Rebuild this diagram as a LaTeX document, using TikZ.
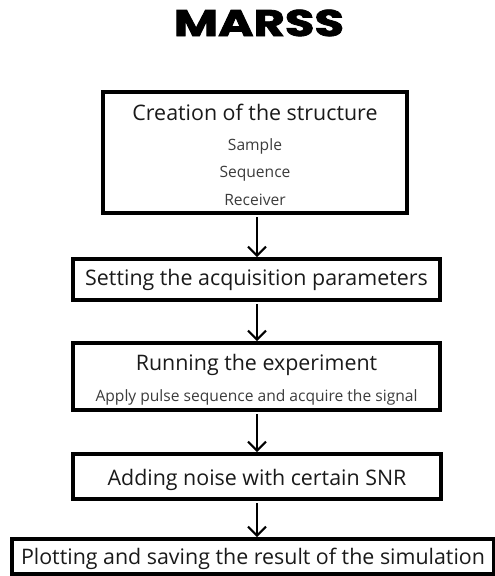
\documentclass[tikz,border=0pt]{standalone}
\usepackage{fontspec}
\setmainfont{Open Sans}
\newfontfamily\titlefont{Poppins}[FakeBold=2]
\usetikzlibrary{arrows.meta}
\definecolor{maintext}{HTML}{1A1A1A}
\definecolor{subtext}{HTML}{3C3C3C}
\tikzset{
  stepbox/.style={draw=black, line width=4pt, fill=white, inner sep=0pt},
  headtext/.style={text=maintext, font=\fontsize{21.4}{24}\selectfont, inner sep=0pt, anchor=base},
  smalltext/.style={text=subtext, font=\fontsize{15.6}{18}\selectfont, inner sep=0pt, anchor=base},
  flow/.style={line width=2pt, -{Straight Barb[length=9pt,width=18pt,line width=2pt]}}
}
\begin{document}
\begin{tikzpicture}[x=1pt,y=-1pt]
\useasboundingbox (0,0) rectangle (495,576);
% title
\node[font=\titlefont\bfseries\fontsize{37}{40}\selectfont, inner sep=0pt, anchor=base, xscale=1.3] (title) at (259,36) {MARSS};
% step boxes
\node[stepbox, minimum width=304pt, minimum height=121pt] (b1) at (255,152.5) {};
\node[stepbox, minimum width=367pt, minimum height=41pt] (b2) at (256.5,279.5) {};
\node[stepbox, minimum width=367pt, minimum height=67pt] (b3) at (256.5,376.5) {};
\node[stepbox, minimum width=368pt, minimum height=45pt] (b4) at (257,476.5) {};
\node[stepbox, minimum width=482pt, minimum height=35pt] (b5) at (253,556.5) {};
% box texts (placed on their baselines)
\node[headtext] (t1) at (255,120) {Creation of the structure};
\node[smalltext] (s1) at (255,150) {Sample};
\node[smalltext] (s2) at (255,177) {Sequence};
\node[smalltext] (s3) at (255,205) {Receiver};
\node[headtext] (t2) at (256.5,285) {Setting the acquisition parameters};
\node[headtext] (t3) at (256.5,370) {Running the experiment};
\node[smalltext] (s4) at (256.5,401) {Apply pulse sequence and acquire the signal};
\node[headtext] (t4) at (257,485) {Adding noise with certain SNR};
\node[headtext] (t5) at (253,564) {Plotting and saving the result of the simulation};
% connectors
\draw[flow] (b1.south -| 257,0) ++(0,2) -- (b2.north -| 257,0);
\draw[flow] (b2.south -| 257,0) ++(0,2) -- (b3.north -| 257,0);
\draw[flow] (b3.south -| 257,0) ++(0,2) -- (b4.north -| 257,0);
\draw[flow] (b4.south -| 257,0) ++(0,2) -- (b5.north -| 257,0);
\end{tikzpicture}
\end{document}
